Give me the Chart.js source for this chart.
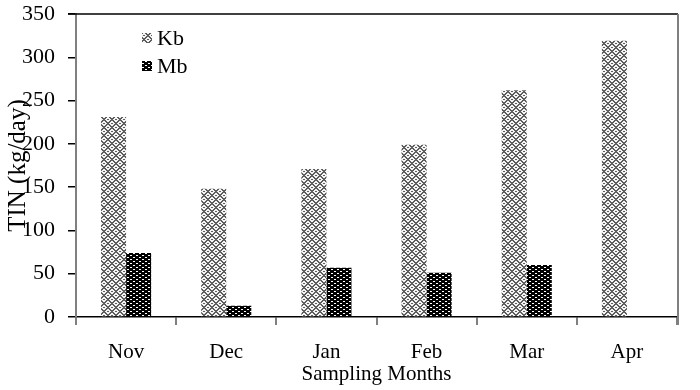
<!DOCTYPE html>
<html>
<head>
<meta charset="utf-8">
<script src="https://cdn.jsdelivr.net/npm/chart.js@4"></script>
<style>
  html, body { margin: 0; padding: 0; background: #fff; }
  #wrap { width: 700px; height: 390px; }
</style>
</head>
<body>
<div id="wrap"><canvas id="tinChart" width="700" height="390"></canvas></div>
<script>
// data
const months = ['Nov', 'Dec', 'Jan', 'Feb', 'Mar', 'Apr'];
const kbValues = [231, 148, 171, 199, 262, 319];
const mbValues = [74, 13, 57, 51, 60, null];
const yTicks = [0, 50, 100, 150, 200, 250, 300, 350];

const FONT = "'Liberation Serif', 'Times New Roman', serif";

// pixel tile -> canvas pattern
function makePattern(rows, colors) {
  const c = document.createElement('canvas');
  c.width = rows[0].length;
  c.height = rows.length;
  const g = c.getContext('2d');
  rows.forEach((row, y) => {
    for (let x = 0; x < row.length; x++) {
      g.fillStyle = colors[row[x]];
      g.fillRect(x, y, 1, 1);
    }
  });
  return g.createPattern(c, 'repeat');
}

// herringbone-ish weave for Kb
const kbPattern = makePattern([
  'XX....XX',
  '.XX..XX.',
  '..XXXX..',
  'X..XX..X',
  'XX....XX',
  '.XX..XX.',
  '..XXXX..',
  'X..XX..X'
].map((r, i) => i < 4 ? r : r.slice(4) + r.slice(0, 4)),
  { X: '#5e5e5e', '.': '#f4f4f4' });

const mbPattern = makePattern([
  'BBBBBB',
  'BWWBBB',
  'BBBBBB',
  'BBBBWW'
], { B: '#000000', W: '#ffffff' });

// top and right frame lines + legend inside the plot
const framePlugin = {
  id: 'frame',
  afterDraw(chart) {
    const { ctx, chartArea: a } = chart;
    ctx.save();
    ctx.strokeStyle = '#000';
    ctx.lineWidth = 1.5;
    ctx.beginPath();
    ctx.moveTo(a.left - 8, a.top);
    ctx.lineTo(a.right + 1, a.top);
    ctx.stroke();
    ctx.strokeStyle = '#808080';
    ctx.lineWidth = 2;
    ctx.beginPath();
    ctx.moveTo(a.right + 1, a.top);
    ctx.lineTo(a.right + 1, a.bottom + 8);
    ctx.stroke();

    // legend
    const items = chart.data.datasets;
    ctx.font = '22px ' + FONT;
    ctx.textBaseline = 'middle';
    items.forEach((ds, i) => {
      const y = 38 + i * 28;
      ctx.fillStyle = ds.backgroundColor;
      ctx.fillRect(142, y - 5, 10, 10);
      ctx.fillStyle = '#000';
      ctx.fillText(ds.label, 157, y + 1);
    });
    ctx.restore();
  }
};

new Chart(document.getElementById('tinChart').getContext('2d'), {
  type: 'bar',
  data: {
    labels: months,
    datasets: [
      {
        label: 'Kb',
        data: kbValues,
        backgroundColor: kbPattern,
        borderWidth: 0,
        barPercentage: 1,
        categoryPercentage: 0.5
      },
      {
        label: 'Mb',
        data: mbValues,
        backgroundColor: mbPattern,
        borderWidth: 0,
        barPercentage: 1,
        categoryPercentage: 0.5
      }
    ]
  },
  options: {
    responsive: false,
    animation: false,
    layout: { padding: { top: 14, right: 23, left: 0, bottom: 0 } },
    plugins: {
      legend: { display: false },
      tooltip: { enabled: false }
    },
    scales: {
      x: {
        offset: true,
        grid: {
          drawOnChartArea: false,
          drawTicks: true,
          tickLength: 8,
          color: '#808080',
          lineWidth: 2
        },
        border: { display: true, color: '#000', width: 1.5 },
        ticks: {
          color: '#000',
          padding: 15,
          font: { family: FONT, size: 21 }
        },
        title: {
          display: true,
          text: 'Sampling Months',
          color: '#000',
          font: { family: FONT, size: 21 },
          padding: { top: 0, bottom: 3 }
        },
        afterFit(scale) {
          scale.height = 73;
          scale.paddingLeft = 0;
          scale.paddingRight = 0;
        }
      },
      y: {
        min: 0,
        max: 350,
        afterBuildTicks(scale) {
          scale.ticks = yTicks.map(v => ({ value: v }));
        },
        grid: {
          drawOnChartArea: false,
          drawTicks: true,
          tickLength: 8,
          color: '#000',
          lineWidth: 1.5
        },
        border: { display: true, color: '#808080', width: 2 },
        ticks: {
          color: '#000',
          padding: 13,
          font: { family: FONT, size: 22 }
        },
        title: {
          display: true,
          text: 'TIN (kg/day)',
          color: '#000',
          font: { family: FONT, size: 25 },
          padding: { top: 3, bottom: 0 }
        },
        afterFit(scale) {
          scale.width = 76;
          scale.paddingTop = 0;
          scale.paddingBottom = 0;
        }
      }
    }
  },
  plugins: [framePlugin]
});
</script>
</body>
</html>
